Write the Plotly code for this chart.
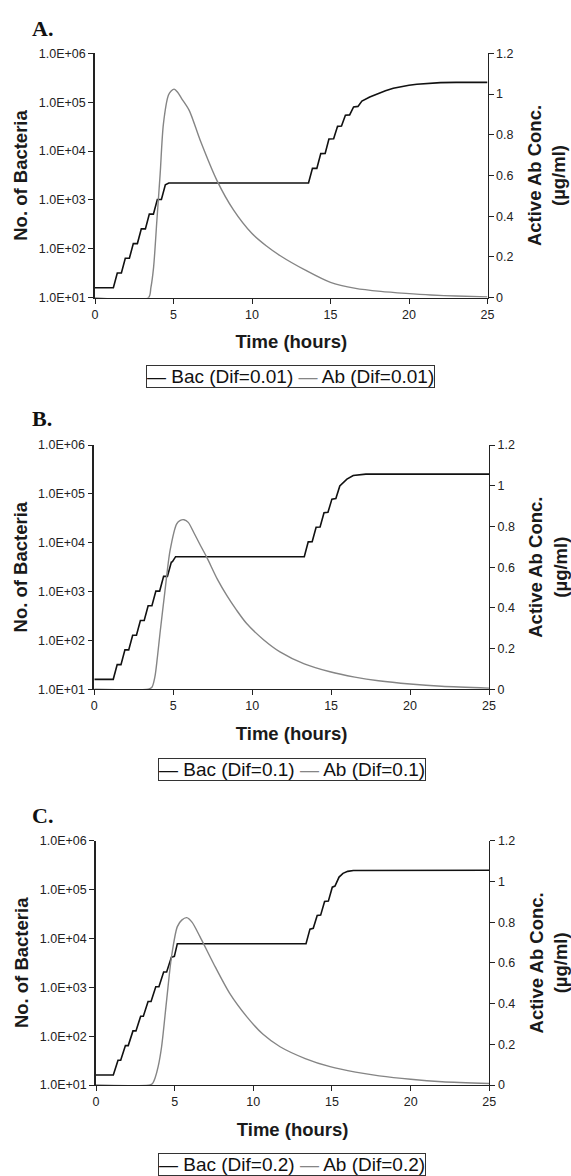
import plotly.graph_objects as go

W, H = 571, 1176

# ---------------- data ----------------
panel_labels = ["A.", "B.", "C."]
dif_labels = ["0.01", "0.1", "0.2"]

t_bac_A = [0, 1.17, 1.42, 1.68, 1.93, 2.19, 2.44, 2.70, 2.95, 3.21, 3.46, 3.72, 3.97, 4.23, 4.48, 4.7,
           13.6, 13.85, 14.13, 14.38, 14.66, 14.9, 15.2, 15.45, 15.7, 15.95, 16.22, 16.47, 16.75, 17.0,
           17.5, 18.0, 18.5, 19.0, 19.5, 20.0, 20.5, 21.0, 21.5, 22.0, 23.0, 25.0]
bac_A = [16, 16, 32, 32, 64, 64, 128, 128, 256, 256, 512, 512, 1024, 1024, 2048, 2215,
         2215, 4430, 4430, 8860, 8900, 17600, 17800, 32000, 32500, 54000, 55000, 80000, 82000, 105000,
         128000, 150000, 172000, 192000, 208000, 222000, 233000, 241000, 247000, 251000, 254000, 254000]
t_ab_A = [0, 3.4, 3.56, 3.73, 3.94, 4.15, 4.36, 4.68, 4.85, 5.04, 5.25, 5.5, 6.0, 6.7, 7.77,
          8.83, 10.0, 10.9, 11.8, 13.4, 15.0, 16.6, 18.2, 19.8, 21.4, 23.0, 25.0]
ab_A = [0, 0, 0.05, 0.148, 0.378, 0.608, 0.855, 0.995, 1.015, 1.024, 1.01, 0.98, 0.92, 0.773, 0.575,
        0.43, 0.315, 0.255, 0.206, 0.135, 0.075, 0.046, 0.031, 0.021, 0.013, 0.008, 0.004]

t_bac_B = [0, 1.20, 1.45, 1.69, 1.94, 2.18, 2.43, 2.67, 2.92, 3.16, 3.41, 3.65, 3.90, 4.14, 4.39, 4.63,
           4.88, 4.95, 5.15, 13.3, 13.55, 13.8, 14.05, 14.3, 14.55, 14.8, 15.05, 15.3, 15.55, 15.75,
           16.0, 16.4, 16.8, 17.2, 25.0]
bac_B = [16, 16, 32, 32, 64, 64, 128, 128, 256, 256, 512, 512, 1024, 1024, 2048, 2048,
         4000, 4100, 5180, 5180, 10400, 10500, 20700, 21000, 41000, 42000, 78000, 80000, 145000, 170000,
         200000, 238000, 250000, 254000, 254000]
t_ab_B = [0, 3.42, 3.65, 3.84, 4.0, 4.16, 4.48, 4.8, 5.22, 5.45, 5.68, 5.95, 6.3, 6.7, 7.12, 7.8, 8.4,
          9.0, 9.65, 10.7, 11.76, 13.3, 14.93, 16.5, 18.0, 20.0, 22.0, 25.0]
ab_B = [0, 0, 0.01, 0.062, 0.16, 0.274, 0.486, 0.682, 0.813, 0.83, 0.833, 0.82, 0.77, 0.71, 0.649, 0.54,
        0.46, 0.39, 0.323, 0.245, 0.184, 0.125, 0.086, 0.06, 0.042, 0.026, 0.015, 0.006]

t_bac_C = [0, 1.10, 1.40, 1.57, 1.87, 2.05, 2.35, 2.54, 2.84, 3.01, 3.31, 3.50, 3.80, 4.0, 4.30, 4.49,
           4.79, 4.98, 5.17, 13.35, 13.6, 13.81, 14.06, 14.28, 14.53, 14.77, 15.02, 15.19, 15.45, 15.7,
           16.0, 16.36, 25.0]
bac_C = [16, 16, 32, 32, 64, 64, 128, 128, 256, 256, 512, 512, 1024, 1024, 2048, 2048,
         4096, 4300, 7800, 7800, 15500, 16100, 29500, 30000, 57000, 58000, 112000, 118000, 180000, 215000,
         236000, 246000, 248000]
t_ab_C = [0, 3.43, 3.6, 3.75, 3.95, 4.17, 4.49, 4.8, 5.17, 5.45, 5.77, 6.1, 6.6, 7.46, 8.5, 9.58, 10.6,
          11.7, 13.3, 14.88, 16.5, 18.0, 20.0, 22.0, 25.0]
ab_C = [0, 0, 0.008, 0.033, 0.09, 0.188, 0.417, 0.63, 0.778, 0.81, 0.822, 0.80, 0.73, 0.598, 0.45, 0.336,
        0.25, 0.188, 0.13, 0.09, 0.063, 0.045, 0.028, 0.016, 0.007]

x_ticks = [0, 5, 10, 15, 20, 25]
left_tickvals = [1e1, 1e2, 1e3, 1e4, 1e5, 1e6]
left_ticktext = ["1.0E+01", "1.0E+02", "1.0E+03", "1.0E+04", "1.0E+05", "1.0E+06"]
right_tickvals = [0, 0.2, 0.4, 0.6, 0.8, 1.0, 1.2]
right_ticktext = ["0", "0.2", "0.4", "0.6", "0.8", "1", "1.2"]

# ---------------- layout geometry (pixels) ----------------
boxes = [(95, 487.5, 53.3, 297.7), (94.3, 489, 445, 689.3), (96, 489.3, 840.7, 1085)]
label_y = [28, 418, 815]
legend_top = [365, 758, 1153]
legend_cx = [290, 292, 292]

series = [(t_bac_A, bac_A, t_ab_A, ab_A), (t_bac_B, bac_B, t_ab_B, ab_B), (t_bac_C, bac_C, t_ab_C, ab_C)]

FONT = "Arial, Liberation Sans, sans-serif"
TICKFONT = dict(family=FONT, size=12.5, color="#222222")
TITLEFONT = dict(family=FONT, size=18.5, color="#1a1a1a")
AXC = "#222222"
BAC_C = "#111111"
AB_C = "#858585"

fig = go.Figure()
layout = dict(width=W, height=H, margin=dict(l=0, r=0, t=0, b=0, autoexpand=False), showlegend=False,
              paper_bgcolor="white", plot_bgcolor="white", annotations=[])


def px(x):
    return x / W


def py(y):
    return 1 - y / H


for p in range(3):
    xl, xr, yt, yb = boxes[p]
    xid = p + 1
    yl, yr, yc = 3 * p + 1, 3 * p + 2, 3 * p + 3
    xname = "xaxis" if xid == 1 else f"xaxis{xid}"
    xa = "x" if xid == 1 else f"x{xid}"
    ya = "y" if yl == 1 else f"y{yl}"
    tb, vb, ta, va = series[p]
    fig.add_trace(go.Scatter(x=tb, y=vb, mode="lines", name=f"Bac (Dif={dif_labels[p]})",
                             line=dict(color=BAC_C, width=1.6), xaxis=xa, yaxis=ya))
    fig.add_trace(go.Scatter(x=ta, y=va, mode="lines", name=f"Ab (Dif={dif_labels[p]})",
                             line=dict(color=AB_C, width=1.4, shape="spline", smoothing=0.8),
                             xaxis=xa, yaxis=f"y{yr}"))
    layout[xname] = dict(domain=[px(xl), px(xr)], range=[0, 25], anchor=ya, automargin=False,
                         tickvals=x_ticks, ticks="outside", ticklen=5, tickcolor=AXC,
                         showline=True, linecolor=AXC, linewidth=1.2, showgrid=False, zeroline=False,
                         tickfont=TICKFONT,
                         title=dict(text="<b>Time (hours)</b>", font=TITLEFONT, standoff=14))
    ylname = "yaxis" if yl == 1 else f"yaxis{yl}"
    layout[ylname] = dict(domain=[py(yb), py(yt)], type="log", range=[1, 6], anchor=xa, automargin=False,
                          tickvals=left_tickvals, ticktext=left_ticktext,
                          ticks="outside", ticklen=5, tickcolor=AXC,
                          showline=True, linecolor=AXC, linewidth=1.6, showgrid=False, zeroline=False,
                          tickfont=TICKFONT,
                          title=dict(text="<b>No. of Bacteria</b>", font=TITLEFONT, standoff=6))
    layout[f"yaxis{yr}"] = dict(overlaying=ya, side="right", anchor=xa, automargin=False,
                                range=[0, 1.2], tickvals=right_tickvals, ticktext=right_ticktext,
                                ticks="outside", ticklen=5, tickcolor=AXC,
                                showline=True, linecolor=AXC, linewidth=1.2, showgrid=False, zeroline=False,
                                tickfont=TICKFONT,
                                title=dict(text="<b>Active Ab Conc.<br>(µg/ml)</b>", font=TITLEFONT,
                                           standoff=15))
    layout[f"yaxis{yc}"] = dict(overlaying=ya, side="right", anchor=xa, automargin=False,
                                range=[0, 1.2], tickvals=right_tickvals, ticks="inside", ticklen=5,
                                tickcolor=AXC, showticklabels=False, showline=False, showgrid=False,
                                zeroline=False)
    legend_text = (f"<span style='color:{BAC_C}'>—</span> Bac (Dif={dif_labels[p]}) "
                   f"<span style='color:{AB_C}'>—</span> Ab (Dif={dif_labels[p]})")
    layout["annotations"].append(dict(text=legend_text, x=px(legend_cx[p]), y=py(legend_top[p]),
                                      xref="paper", yref="paper", xanchor="center", yanchor="top",
                                      showarrow=False, bordercolor="#333333", borderwidth=1, borderpad=0,
                                      bgcolor="white", font=dict(family=FONT, size=19, color="#111111")))
    layout["annotations"].append(dict(text=f"<b>{panel_labels[p]}</b>", x=px(30), y=py(label_y[p]),
                                      xref="paper", yref="paper", xanchor="left", yanchor="middle",
                                      showarrow=False,
                                      font=dict(family="Liberation Serif, Times New Roman, serif",
                                                size=22, color="#111111")))

fig.update_layout(**layout)
fig.write_html("out.html", config={"displayModeBar": False},
               post_script="document.body.style.margin='0';document.body.style.overflow='hidden';")
